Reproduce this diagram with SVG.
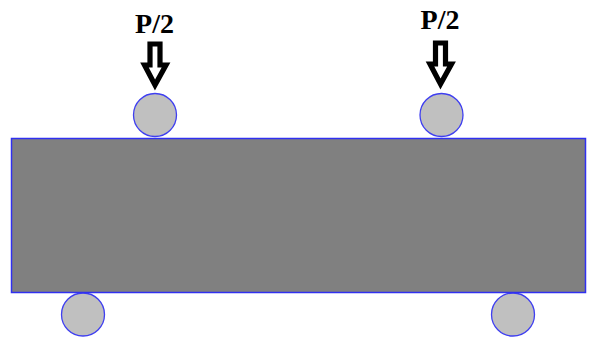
<svg xmlns="http://www.w3.org/2000/svg" width="590" height="338" viewBox="0 0 590 338">
<style>
.roller{fill:#c0c0c0;stroke:#3f3ff0;stroke-width:1.3}
.beam{fill:#808080;stroke:#3030f0;stroke-width:1.5}
.arrow{fill:#fff;stroke:#000;stroke-width:5.2;stroke-linejoin:miter;stroke-miterlimit:4}
.label{font-family:"Liberation Serif","Times New Roman",serif;font-weight:bold;font-size:28px;fill:#000;text-anchor:middle}
</style>
<rect width="590" height="338" fill="#fff"/>
<g id="roller-top-left"><circle class="roller" cx="155" cy="115" r="21.5"/></g>
<g id="roller-top-right"><circle class="roller" cx="441.5" cy="115" r="21.5"/></g>
<g id="roller-bottom-left"><circle class="roller" cx="83" cy="314.5" r="21.5"/></g>
<g id="roller-bottom-right"><circle class="roller" cx="513" cy="314.5" r="21.5"/></g>
<g id="beam"><rect class="beam" x="11.5" y="138.5" width="574" height="154"/></g>
<g id="load-left">
<path class="arrow" d="M150 44H160V65H166L155 85L144.500 65H150Z"/>
<text class="label" x="154.500" y="33">P/2</text>
</g>
<g id="load-right">
<path class="arrow" d="M435.500 43H445.500V64H451.500L440.500 84L430 64H435.500Z"/>
<text class="label" x="440" y="29">P/2</text>
</g>
<g id="connectors"></g>
</svg>
